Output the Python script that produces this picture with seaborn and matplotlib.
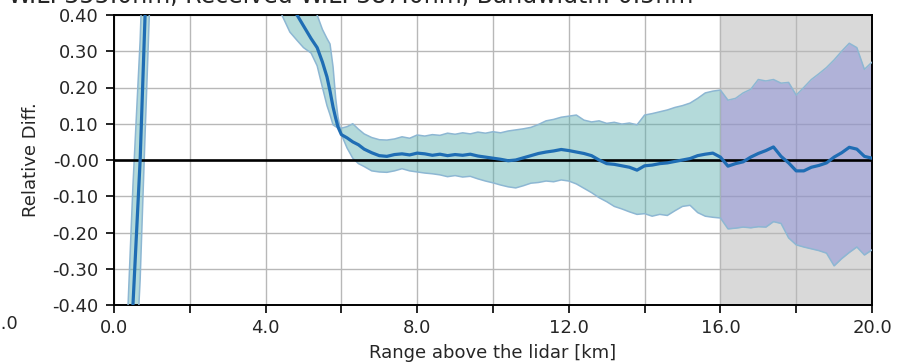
import matplotlib
matplotlib.use("Agg")
import matplotlib.pyplot as plt
import seaborn as sns
import numpy as np
import pandas as pd

# range above the lidar [km]
range_km = [0.0, 0.3, 0.5, 0.69, 0.82, 1.0, 1.5, 2.5, 3.5, 4.2, 4.43, 4.64, 4.83, 5.0, 5.2,
            5.36, 5.5, 5.62, 5.7, 5.78, 5.85, 5.91, 6.0, 6.15, 6.3, 6.45, 6.6, 6.8, 7.0, 7.2,
            7.4, 7.6, 7.8, 8.0, 8.2, 8.4, 8.6, 8.8, 9.0, 9.2, 9.4, 9.6, 9.8, 10.0, 10.2,
            10.4, 10.6, 10.8, 11.0, 11.2, 11.4, 11.6, 11.8, 12.0, 12.2, 12.4, 12.6, 12.8,
            13.0, 13.2, 13.4, 13.6, 13.8, 14.0, 14.2, 14.4, 14.6, 14.8, 15.0, 15.2, 15.4,
            15.6, 15.8, 16.0, 16.2, 16.4, 16.6, 16.8, 17.0, 17.2, 17.4, 17.6, 17.8, 18.0,
            18.2, 18.4, 18.6, 18.8, 19.0, 19.2, 19.4, 19.6, 19.8, 20.0]

rel_diff = [-1.6, -0.9, -0.40, 0.0, 0.40, 0.9, 1.6, 1.4, 1.0, 0.62, 0.47, 0.44, 0.40, 0.37, 0.335,
            0.31, 0.27, 0.229, 0.19, 0.146, 0.115, 0.091, 0.07, 0.061, 0.05, 0.042, 0.03, 0.02, 0.012, 0.01,
            0.015, 0.017, 0.014, 0.019, 0.017, 0.013, 0.016, 0.012, 0.015, 0.013, 0.016, 0.011, 0.008, 0.005, 0.002,
            -0.002, 0.0, 0.006, 0.012, 0.018, 0.022, 0.025, 0.029, 0.026, 0.022, 0.018, 0.012, 0.0,
            -0.010, -0.012, -0.016, -0.020, -0.028, -0.016, -0.014, -0.010, -0.008, -0.004, 0.0, 0.004, 0.012,
            0.016, 0.019, 0.008, -0.017, -0.010, -0.005, 0.008, 0.018, 0.026, 0.036, 0.010, -0.008, -0.030,
            -0.030, -0.020, -0.015, -0.008, 0.008, 0.020, 0.035, 0.030, 0.010, 0.005]

band_upper = [-1.2, -0.58, -0.07, 0.33, 0.73, 1.2, 1.9, 1.6, 1.2, 0.46, 0.40, 0.353, 0.33, 0.31, 0.295,
              0.26, 0.20, 0.15, 0.125, 0.097, 0.092, 0.09, 0.088, 0.092, 0.10, 0.085, 0.072, 0.062, 0.056, 0.055,
              0.058, 0.064, 0.060, 0.069, 0.066, 0.070, 0.068, 0.074, 0.071, 0.075, 0.072, 0.077, 0.074, 0.078, 0.075,
              0.080, 0.083, 0.086, 0.090, 0.098, 0.108, 0.112, 0.118, 0.121, 0.124, 0.110, 0.105, 0.108,
              0.101, 0.104, 0.099, 0.102, 0.097, 0.124, 0.128, 0.133, 0.138, 0.145, 0.150, 0.157, 0.170,
              0.185, 0.190, 0.193, 0.165, 0.170, 0.185, 0.195, 0.222, 0.218, 0.222, 0.212, 0.214, 0.179,
              0.200, 0.222, 0.238, 0.255, 0.276, 0.300, 0.322, 0.310, 0.250, 0.270]

band_lower = [-2.0, -1.22, -0.73, -0.33, 0.07, 0.6, 1.3, 1.2, 0.85, 0.78, 0.56, 0.52, 0.48, 0.45, 0.42,
              0.40, 0.36, 0.335, 0.32, 0.257, 0.17, 0.119, 0.07, 0.033, 0.005, -0.010, -0.018, -0.030, -0.033, -0.034,
              -0.030, -0.024, -0.030, -0.033, -0.036, -0.038, -0.041, -0.046, -0.043, -0.047, -0.045, -0.052, -0.058, -0.063, -0.069,
              -0.074, -0.077, -0.071, -0.064, -0.062, -0.058, -0.060, -0.055, -0.058, -0.066, -0.078, -0.090, -0.104,
              -0.115, -0.128, -0.135, -0.143, -0.150, -0.148, -0.155, -0.150, -0.153, -0.140, -0.128, -0.125, -0.145,
              -0.155, -0.158, -0.160, -0.190, -0.188, -0.185, -0.187, -0.184, -0.185, -0.170, -0.175, -0.215, -0.234,
              -0.240, -0.245, -0.250, -0.257, -0.292, -0.272, -0.255, -0.240, -0.262, -0.248]

y_ticks = [-0.4, -0.3, -0.2, -0.1, 0.0, 0.1, 0.2, 0.3, 0.4]
x_major = [0, 4, 8, 12, 16, 20]
x_minor = [2, 6, 10, 14, 18]
noisy_from = 16.0

df = pd.DataFrame({'range': range_km, 'diff': rel_diff,
                   'upper': band_upper, 'lower': band_lower})

sns.set_style("white")
plt.rcParams['font.family'] = ['DejaVu Sans']

fig = plt.figure(figsize=(9.13, 3.64), dpi=100)
ax = fig.add_axes([114 / 913, 1 - 305 / 364, 758 / 913, 290 / 364])

# grey region where the signal gets noisy
ax.axvspan(noisy_from, 20, color='#d9d9d9', zorder=0)

x = df['range'].values
low = df['range'] <= noisy_from
high = df['range'] >= noisy_from
ax.fill_between(x, df['lower'], df['upper'], where=low, color='#59adad', alpha=0.45,
                lw=0, zorder=2)
ax.fill_between(x, df['lower'], df['upper'], where=high, color='#7378d7', alpha=0.4,
                lw=0, zorder=2)
ax.plot(x, df['upper'], color='#8db7d3', lw=1.1, zorder=3)
ax.plot(x, df['lower'], color='#8db7d3', lw=1.1, zorder=3)

ax.axhline(0, color='black', lw=1.9, zorder=4)
sns.lineplot(data=df, x='range', y='diff', color='#1f6db4', lw=2.3, ax=ax, zorder=5)

ax.set_xlim(0, 20)
ax.set_ylim(-0.4, 0.4)
ax.set_xticks(x_major)
ax.set_xticklabels([f'{v:.1f}' for v in x_major])
ax.set_xticks(x_minor, minor=True)
ax.set_yticks(y_ticks)
ax.set_yticklabels(['-0.00' if v == 0 else f'{v:.2f}' for v in y_ticks])
ax.grid(True, which='both', color='#b8b8b8', lw=1, zorder=1)
ax.set_axisbelow(True)
ax.tick_params(axis='both', which='both', direction='out', length=6, width=1.2,
               labelsize=13, bottom=True, left=True, color='black')
ax.tick_params(axis='x', pad=4)
ax.tick_params(axis='y', pad=5)
for s in ax.spines.values():
    s.set_color('black')
    s.set_linewidth(1.4)

ax.set_xlabel('Range above the lidar [km]', fontsize=13, labelpad=5)
ax.set_ylabel('Relative Diff.', fontsize=13, labelpad=9)

# pieces of the neighbouring panel and the title, cut off by the crop
fig.text(693 / 913, 1 - 3 / 364, 'Emitted W.L. 355.0nm, Received W.L. 387.0nm, Bandwidth: 0.5nm',
         ha='right', va='baseline', fontsize=17)
fig.text(18 / 913, 1 - 324 / 364, '20.0', ha='right', va='center', fontsize=13)

fig.savefig('out.png', dpi=100)
